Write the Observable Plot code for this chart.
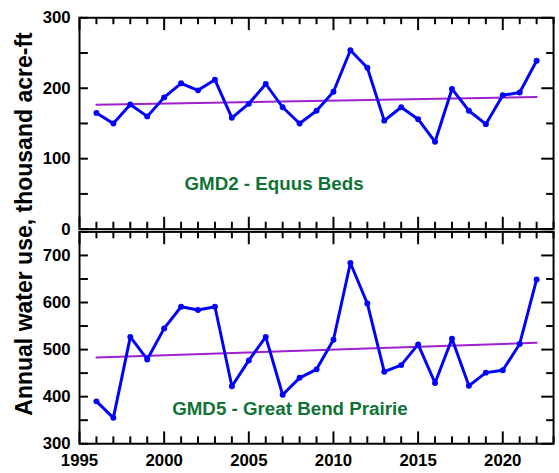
<!DOCTYPE html>
<html><head><meta charset="utf-8">
<script src="https://cdn.jsdelivr.net/npm/d3@7"></script>
<script src="https://cdn.jsdelivr.net/npm/@observablehq/plot@0.6"></script>
<style>
html,body{margin:0;padding:0;overflow:hidden;background:#fff;}
#wrap{position:relative;width:559px;height:473px;overflow:hidden;font-family:"Liberation Sans",Arial,sans-serif;}
#top,#bot{position:absolute;left:0;}
#top{top:0px;}
#bot{top:224px;}
#ylab{position:absolute;left:24px;top:224px;transform:translate(-50%,-50%) rotate(-90deg);font-weight:bold;font-size:23px;white-space:nowrap;color:#000;}
</style></head><body>
<div id="wrap"><div id="top"></div><div id="bot"></div><div id="ylab"></div></div>
<script>
// ---- data ----
const years = [1996,1997,1998,1999,2000,2001,2002,2003,2004,2005,2006,2007,2008,2009,2010,2011,2012,2013,2014,2015,2016,2017,2018,2019,2020,2021,2022];
const gmd2 = [165,150,177,160,187,207,197,212,158,178,206,173,150,168,195,254,229,154,173,156,124,199,168,149,190,194,239];
const gmd5 = [390,355,527,479,545,591,584,591,422,477,527,404,440,458,521,684,598,453,467,511,429,523,423,451,456,512,649];
const panelLabels = ["GMD2 - Equus Beds", "GMD5 - Great Bend Prairie"];
const yTitle = "Annual water use, thousand acre-ft";
const xMajor = [1995,2000,2005,2010,2015,2020];
const xMinor = [1996,1997,1998,1999,2001,2002,2003,2004,2006,2007,2008,2009,2011,2012,2013,2014,2016,2017,2018,2019,2021,2022,2023];
const yTopMajor = [0,100,200,300];
const yTopMinor = [50,150,250];
const yBotMajor = [300,400,500,600,700];
const yBotMinor = [350,450,550,650,750];

const BLUE = "#0000ff", PURPLE = "#a020d0", GREEN = "#0f7336";
const W = 566, ML = 80, MR = 6;
const FW = W - ML - MR;

function panel(values, yDomain, yMajor, yMinor, label, o) {
  const data = years.map((yr, i) => ({year: yr, value: values[i]}));
  const yAll = yMajor.concat(yMinor);
  const FH = o.height - o.mt - o.mb;
  const marks = [
    Plot.frame({strokeWidth: 2}),
    // left ticks (inward)
    Plot.ruleY(yAll, {y: d => d, insetRight: FW - 9, stroke: "#000", strokeWidth: 2}),
    // right ticks (inward)
    Plot.ruleY(yMajor, {y: d => d, insetLeft: FW - 12, stroke: "#000", strokeWidth: 2}),
    Plot.ruleY(yMinor, {y: d => d, insetLeft: FW - 7, stroke: "#000", strokeWidth: 2}),
    // top ticks (inward)
    Plot.ruleX(xMajor, {x: d => d, insetBottom: FH - 13, stroke: "#000", strokeWidth: 2}),
    Plot.ruleX(xMinor, {x: d => d, insetBottom: FH - 7, stroke: "#000", strokeWidth: 2}),
    // bottom ticks (inward)
    Plot.ruleX(xMajor, {x: d => d, insetTop: FH - 12, stroke: "#000", strokeWidth: 2}),
    Plot.ruleX(xMinor, {x: d => d, insetTop: FH - 7, stroke: "#000", strokeWidth: 2}),
    Plot.linearRegressionY(data, {x: "year", y: "value", stroke: PURPLE, strokeWidth: 2, ci: 0}),
    Plot.line(data, {x: "year", y: "value", stroke: BLUE, strokeWidth: 3}),
    Plot.dot(data, {x: "year", y: "value", r: 3, fill: BLUE}),
    Plot.text([label], {frameAnchor: "bottom", dx: o.ldx, dy: o.ldy, fill: GREEN, fontSize: 19, fontWeight: "bold"}),
    Plot.text(yMajor, {y: d => d, text: d => String(d), frameAnchor: "left", textAnchor: "end", dx: -9, fontSize: 17, fontWeight: "bold", fill: "#000"})
  ];
  if (o.xLabels) {
    marks.push(Plot.text(xMajor, {x: d => d, text: d => String(d), frameAnchor: "bottom", lineAnchor: "top", dy: 10, fontSize: 17, fontWeight: "bold", fill: "#000"}));
  }
  return Plot.plot({
    width: W,
    height: o.height,
    marginLeft: ML,
    marginRight: MR,
    marginTop: o.mt,
    marginBottom: o.mb,
    x: {domain: [1995, 2023], label: null, axis: null},
    y: {domain: yDomain, label: null, axis: null},
    style: {fontFamily: '"Liberation Sans", Arial, sans-serif', fontSize: "17px", fontWeight: "bold", color: "#000", background: "transparent", overflow: "visible"},
    marks
  });
}

document.getElementById("top").append(
  panel(gmd2, [0, 300], yTopMajor, yTopMinor, panelLabels[0], {height: 240, mt: 17.5, mb: 8.5, ldx: -43, ldy: -40, xLabels: false})
);
document.getElementById("bot").append(
  panel(gmd5, [300, 750], yBotMajor, yBotMinor, panelLabels[1], {height: 249, mt: 7.5, mb: 27, ldx: -27, ldy: -29, xLabels: true})
);
document.getElementById("ylab").textContent = yTitle;
</script>
</body></html>
